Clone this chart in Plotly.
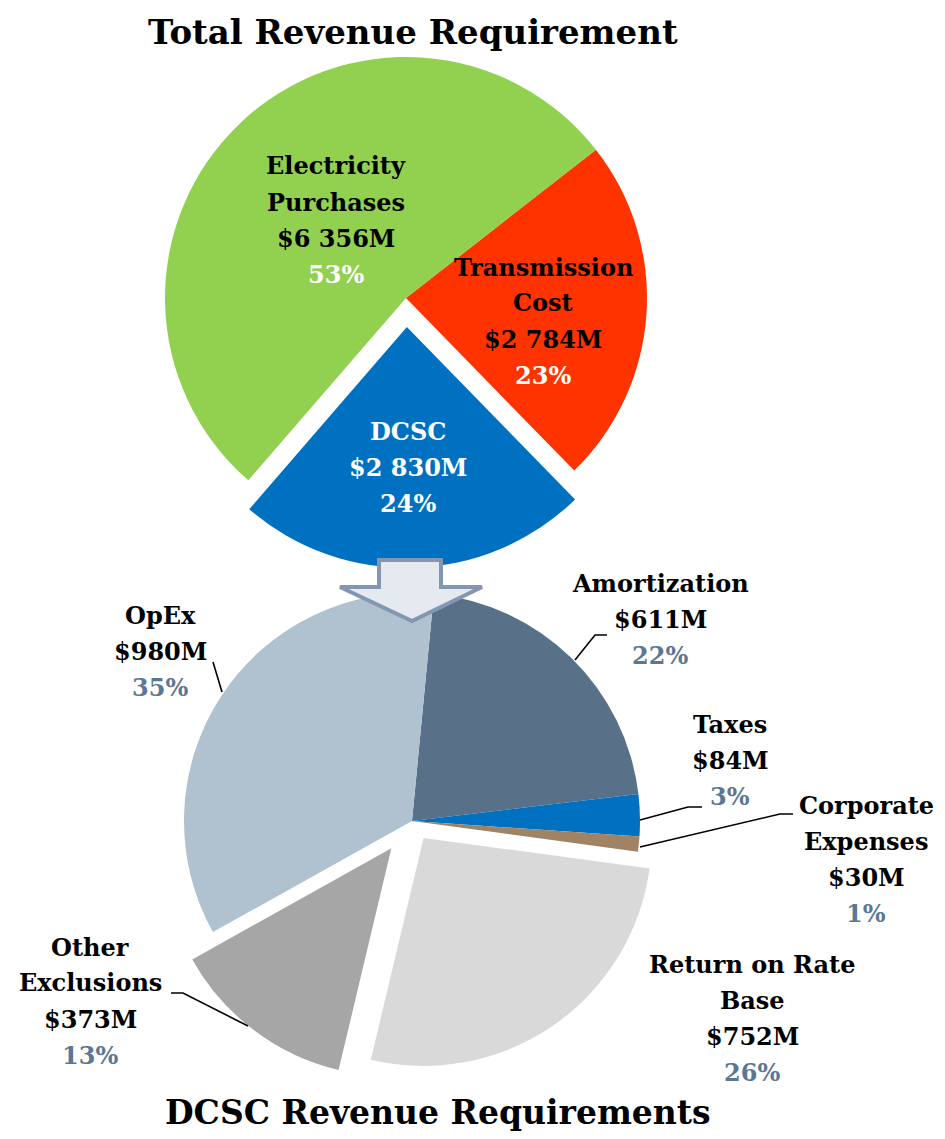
import plotly.graph_objects as go

# ---------------- data ----------------
top_categories = ["Transmission<br>Cost", "DCSC", "Electricity<br>Purchases"]
top_values = [2784, 2830, 6356]          # $M
top_pcts = [23, 24, 53]

dcsc_categories = ["Amortization", "Taxes", "Corporate<br>Expenses",
                   "Return on Rate<br>Base", "Other<br>Exclusions", "OpEx"]
dcsc_values = [611, 84, 30, 752, 373, 980]   # $M
dcsc_pcts = [22, 3, 1, 26, 13, 35]

title_top = "Total Revenue Requirement"
title_bottom = "DCSC Revenue Requirements"

# ---------------- style ----------------
OFF = 8                     # default page body margin
W, H = 945 - OFF, 1139 - OFF
FONT = "DejaVu Serif"
top_colors = ["#FF3300", "#0070C0", "#92D050"]
dcsc_colors = ["#587088", "#0070C0", "#A08264", "#D9D9D9", "#A6A6A6", "#B0C1CF"]
PCT_SLATE = "#5B7793"


def px(x):
    return (x - OFF) / W


def py(y):
    return 1 - (y - OFF) / H


def fmt_money(v):
    return "$" + f"{v:,}".replace(",", " ") + "M"


fig = go.Figure()

# Top pie: centre (406, 298), r = 241, max pull 0.12
top_pull = [0, 0.12, 0]
r_top, cx_top, cy_top = 241, 406, 298
box_top = 2 * r_top * (1 + max(top_pull))
fig.add_trace(go.Pie(
    labels=[c.replace("<br>", " ") for c in top_categories],
    values=top_values, sort=False, direction="clockwise", rotation=52,
    pull=top_pull, textinfo="none", hoverinfo="label+value+percent",
    marker=dict(colors=top_colors, line=dict(width=0)), showlegend=False,
    domain=dict(x=[px(cx_top - box_top / 2), px(cx_top + box_top / 2)],
                y=[py(cy_top + box_top / 2), py(cy_top - box_top / 2)]),
))

# Bottom pie: centre (412, 821), r = 228, max pull 0.15
dcsc_pull = [0, 0, 0, 0.09, 0.15, 0]
r_bot, cx_bot, cy_bot = 228, 412, 821
box_bot = 2 * r_bot * (1 + max(dcsc_pull))
fig.add_trace(go.Pie(
    labels=[c.replace("<br>", " ") for c in dcsc_categories],
    values=dcsc_values, sort=False, direction="clockwise", rotation=5.5,
    pull=dcsc_pull, textinfo="none", hoverinfo="label+value+percent",
    marker=dict(colors=dcsc_colors, line=dict(width=0)), showlegend=False,
    domain=dict(x=[px(cx_bot - box_bot / 2), px(cx_bot + box_bot / 2)],
                y=[py(cy_bot + box_bot / 2), py(cy_bot - box_bot / 2)]),
))

# ---------------- labels ----------------
annotations = []
LINE = 36
FS = 24


def add_label(cx, cy, lines, colors, size=FS):
    n = len(lines)
    for k, (t, c) in enumerate(zip(lines, colors)):
        yy = cy + (k - (n - 1) / 2) * LINE
        annotations.append(dict(
            x=px(cx), y=py(yy), xref="paper", yref="paper", text="<b>" + t + "</b>",
            showarrow=False, xanchor="center", yanchor="middle",
            font=dict(family=FONT, size=size, color=c)))


top_label_pos = [(543, 321), (408, 467), (336, 220)]
top_name_colors = ["#000000", "#FFFFFF", "#000000"]
for cat, v, p, pos, nc in zip(top_categories, top_values, top_pcts, top_label_pos, top_name_colors):
    lines = cat.split("<br>") + [fmt_money(v), f"{p}%"]
    cols = [nc] * (len(lines) - 1) + ["#FFFFFF"]
    add_label(pos[0], pos[1], lines, cols)

dcsc_label_pos = [(660, 619), (730, 760), (866, 859), (752, 1018), (90, 1001), (160, 651)]
for cat, v, p, pos in zip(dcsc_categories, dcsc_values, dcsc_pcts, dcsc_label_pos):
    lines = cat.split("<br>") + [fmt_money(v), f"{p}%"]
    cols = ["#000000"] * (len(lines) - 1) + [PCT_SLATE]
    add_label(pos[0], pos[1], lines, cols)

# titles
annotations.append(dict(x=px(413), y=py(32), xref="paper", yref="paper",
                        text="<b>" + title_top + "</b>", showarrow=False,
                        xanchor="center", yanchor="middle",
                        font=dict(family=FONT, size=34, color="#000000")))
annotations.append(dict(x=px(438), y=py(1112), xref="paper", yref="paper",
                        text="<b>" + title_bottom + "</b>", showarrow=False,
                        xanchor="center", yanchor="middle",
                        font=dict(family=FONT, size=33, color="#000000")))

# ---------------- shapes: leader lines + arrow ----------------
leaders = [
    [(575, 660), (595, 635), (607, 635)],      # Amortization
    [(640, 820), (688, 807), (702, 807)],      # Taxes
    [(640, 847), (780, 814), (793, 814)],      # Corporate Expenses
    [(248, 1026), (183, 993), (171, 993)],     # Other Exclusions
    [(222, 692), (213, 662)],                  # OpEx
]


def path_of(points, close=False):
    s = "M " + " L ".join(f"{px(x):.5f},{py(y):.5f}" for x, y in points)
    return s + (" Z" if close else "")


shapes = []
for pts in leaders:
    shapes.append(dict(type="path", xref="paper", yref="paper", path=path_of(pts),
                       line=dict(color="#000000", width=1.6)))

arrow = [(379, 560), (441, 560), (441, 587), (482, 587), (412, 621),
         (340, 587), (379, 587)]
shapes.append(dict(type="path", xref="paper", yref="paper", path=path_of(arrow, True),
                   fillcolor="#E4EAF0", line=dict(color="#8497B0", width=4)))

fig.update_layout(
    width=W, height=H, autosize=False,
    margin=dict(l=0, r=0, t=0, b=0),
    paper_bgcolor="#FFFFFF", plot_bgcolor="#FFFFFF",
    annotations=annotations, shapes=shapes,
)

fig.write_html("out.html")
